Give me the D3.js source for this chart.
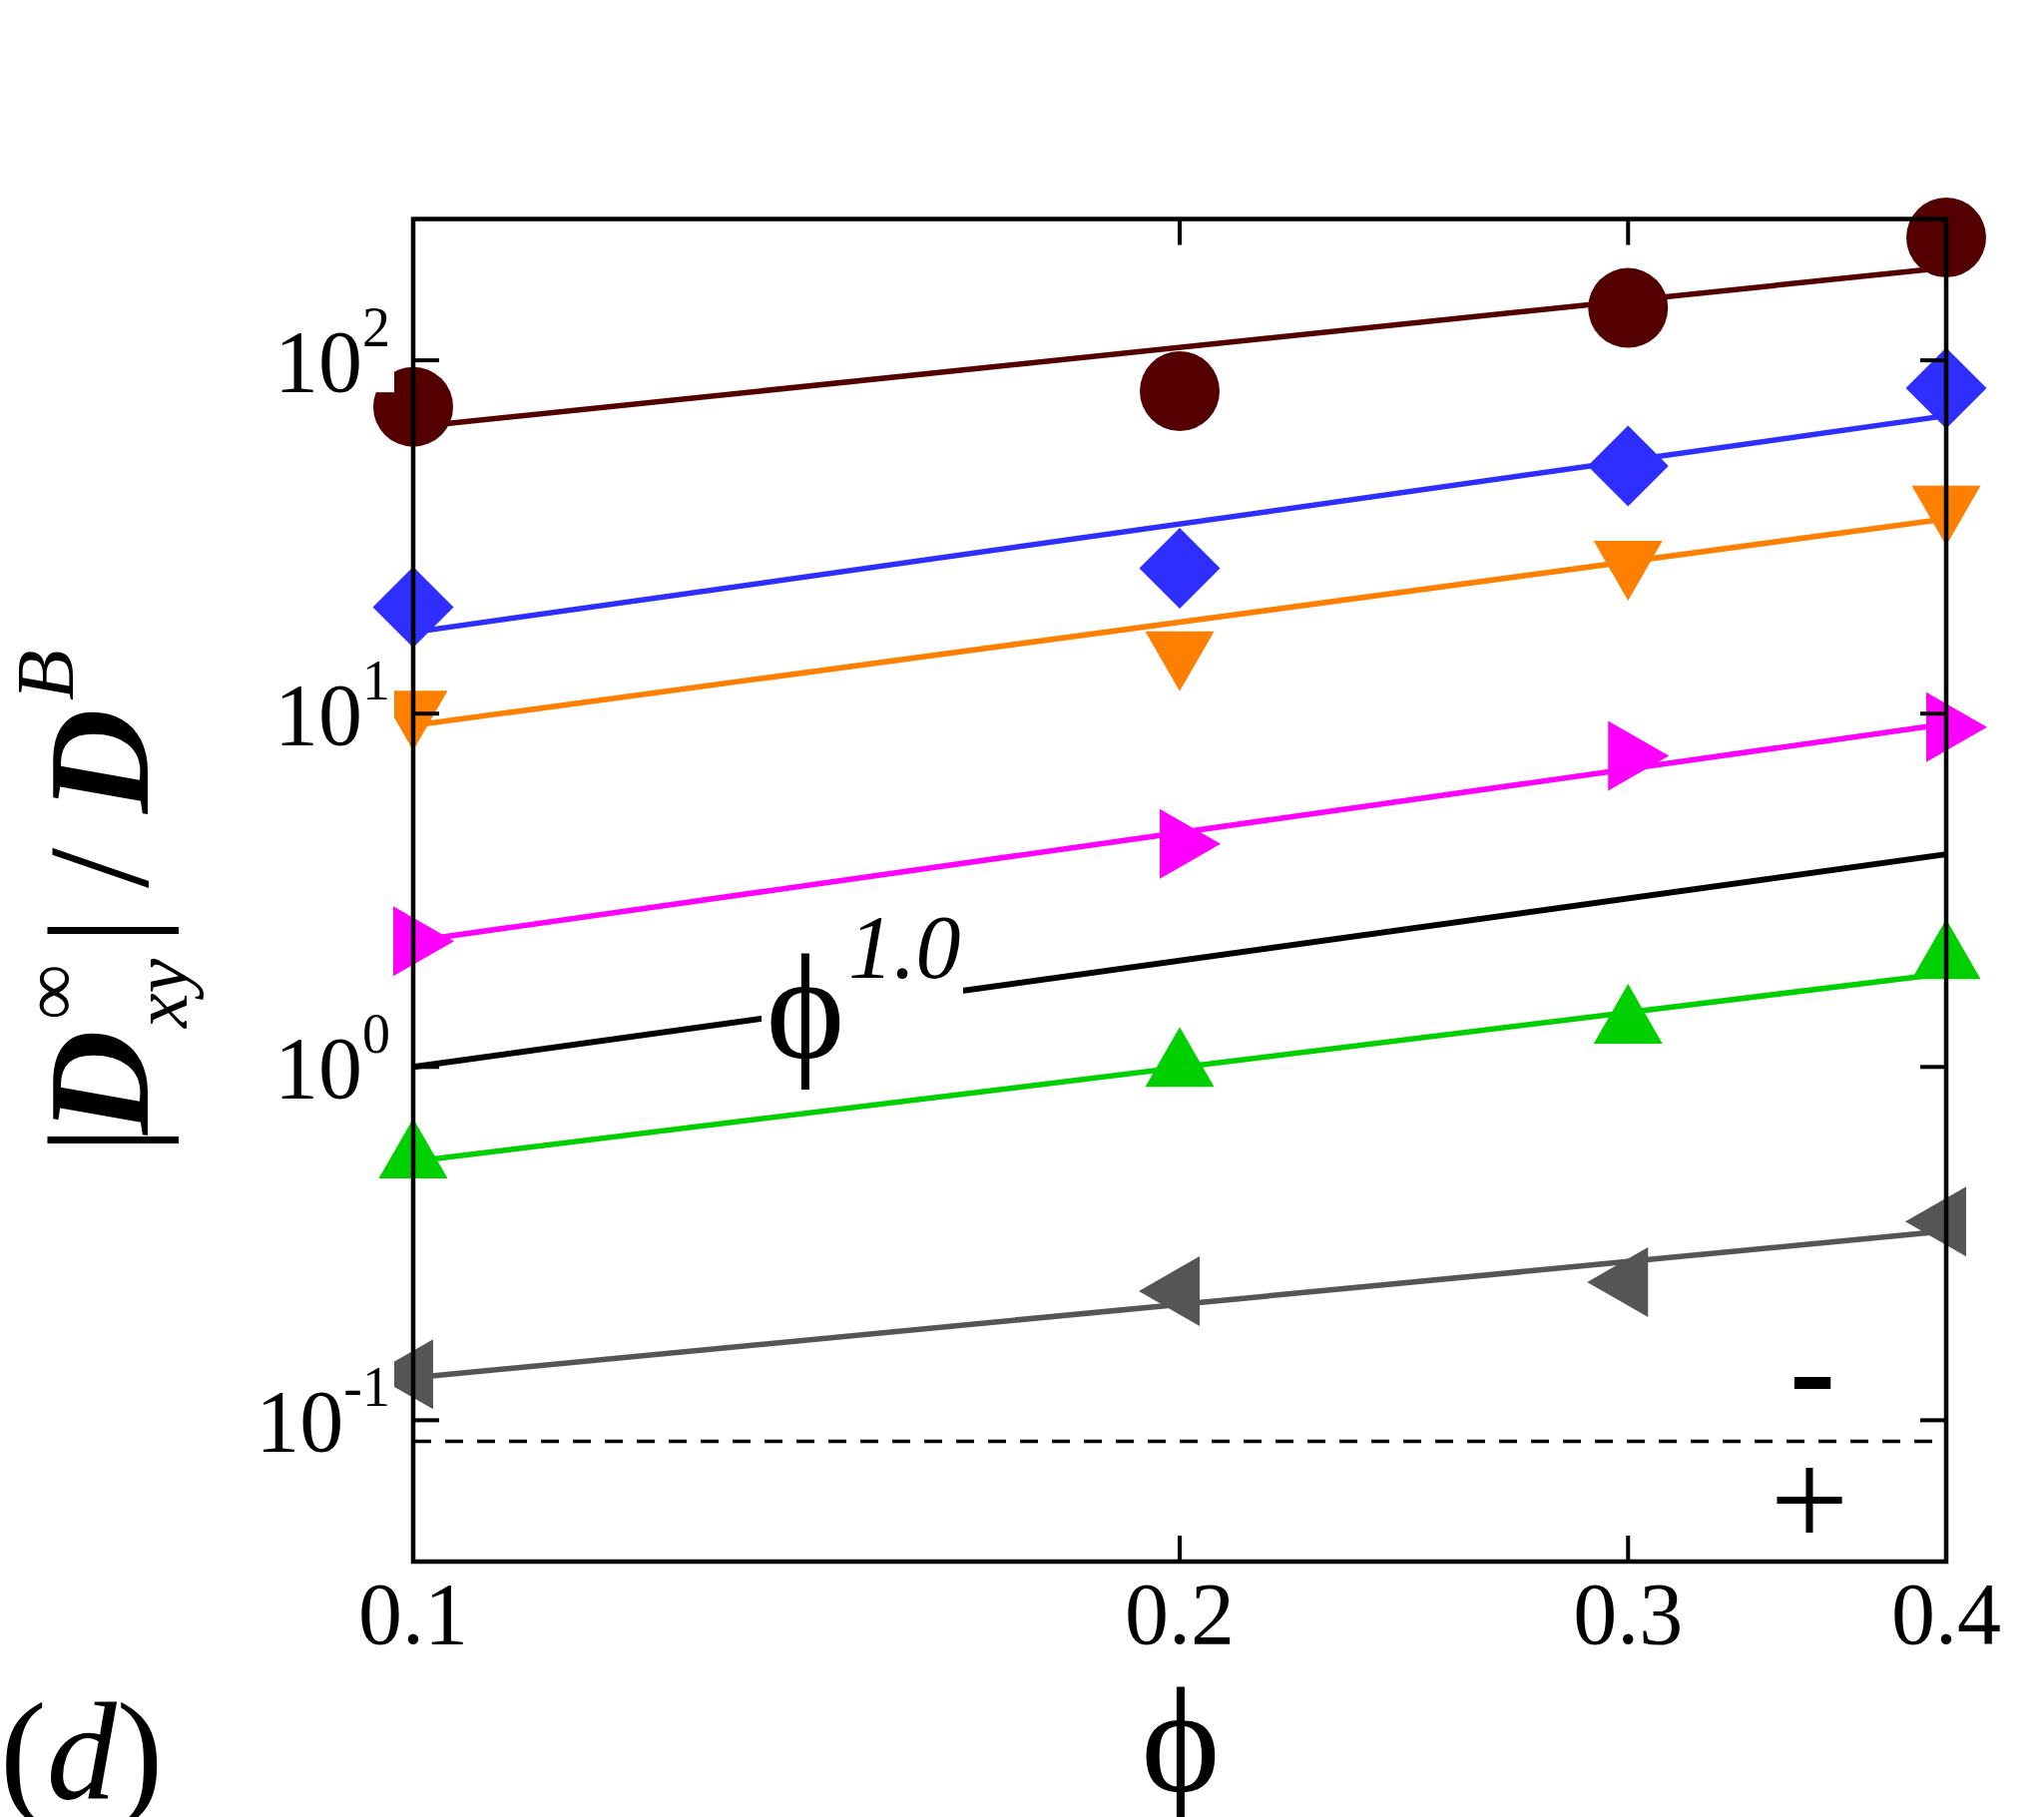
<!DOCTYPE html>
<html>
<head>
<meta charset="utf-8">
<script src="https://cdn.jsdelivr.net/npm/d3@7"></script>
<style>
  body { margin: 0; background: #fff; }
  svg { display: block; }
</style>
</head>
<body>
<script>
// volume fraction values (x) and the measured |D_xy| / D^B for each series
const phi = [0.1, 0.2, 0.3, 0.4];
const circleVals = [73.9, 81.8, 140.7, 222.7];
const diamondVals = [20.0, 25.8, 50.2, 83.4];
const downTriVals = [10.2, 15.0, 27.1, 38.8];
const rightTriVals = [2.27, 4.28, 7.60, 9.16];
const upTriVals = [0.551, 1.00, 1.325, 2.02];
const leftTriVals = [0.135, 0.232, 0.246, 0.365];

// power-law fits, values at the two ends of the phi range
const fitPhi = [0.1, 0.4];
const circleFit = [64.7, 183];
const diamondFit = [17.0, 69.7];
const downTriFit = [9.26, 35.6];
const rightTriFit = [2.27, 9.35];
const upTriFit = [0.54, 1.84];
const leftTriFit = [0.132, 0.343];
const refLine = [1.0, 4.0]; // phi^1.0 guide

const signBoundary = 0.0872; // dashed line between - and + regions

const xTicks = [0.1, 0.2, 0.3, 0.4];
const yTicks = [0.1, 1, 10, 100];
const yTickExp = ['-1', '0', '1', '2'];

const serif = '"Liberation Serif", "Times New Roman", serif';
const PHI = '\u03d5';

const series = [
    { vals: circleVals, fit: circleFit, color: '#550000', shape: 'circle' },
    { vals: diamondVals, fit: diamondFit, color: '#2e2eff', shape: 'diamond' },
    { vals: downTriVals, fit: downTriFit, color: '#ff8000', shape: 'down' },
    { vals: rightTriVals, fit: rightTriFit, color: '#ff00ff', shape: 'right' },
    { vals: upTriVals, fit: upTriFit, color: '#00d000', shape: 'up' },
    { vals: leftTriVals, fit: leftTriFit, color: '#555555', shape: 'left' },
];

const W = 2048, H = 1821;
const plotLeft = 414, plotRight = 1950, plotTop = 219.5, plotBottom = 1565;

const x = d3.scaleLog().domain([0.1, 0.4]).range([plotLeft, plotRight]);
const y = d3.scaleLog().domain([Math.pow(10, -1.4), Math.pow(10, 2.4)]).range([plotBottom, plotTop]);

const svg = d3.select('body').append('svg')
    .attr('width', W).attr('height', H)
    .attr('font-family', serif);

svg.append('rect').attr('width', W).attr('height', H).attr('fill', '#fff');

const line = d3.line().x(d => x(d[0])).y(d => y(d[1]));

// guide line phi^1.0
svg.append('path')
    .datum(fitPhi.map((p, i) => [p, refLine[i]]))
    .attr('d', line)
    .attr('fill', 'none')
    .attr('stroke', '#000')
    .attr('stroke-width', 6);

// label sitting on the guide line (white boxes break the line)
const ann = svg.append('g');
ann.append('rect').attr('x', 763).attr('y', 940).attr('width', 95).attr('height', 155).attr('fill', '#fff');
ann.append('rect').attr('x', 845).attr('y', 905).attr('width', 120).attr('height', 115).attr('fill', '#fff');
ann.append('text').attr('x', 807).attr('y', 1060).attr('text-anchor', 'middle')
    .attr('font-size', 150).text(PHI);
ann.append('text').attr('x', 850).attr('y', 980).attr('font-size', 90)
    .attr('font-style', 'italic').text('1.0');

// fit lines
series.forEach(s => {
    svg.append('path')
        .datum(fitPhi.map((p, i) => [p, s.fit[i]]))
        .attr('d', line)
        .attr('fill', 'none')
        .attr('stroke', s.color)
        .attr('stroke-width', 5.5);
});

// markers
function markerPath(shape) {
    const b = 69, h = 60;
    if (shape === 'circle') return d3.symbol(d3.symbolCircle, Math.PI * 40 * 40)();
    if (shape === 'diamond') return 'M0,-40.5L40.5,0L0,40.5L-40.5,0Z';
    if (shape === 'up') return `M0,${-2 * h / 3}L${b / 2},${h / 3}L${-b / 2},${h / 3}Z`;
    if (shape === 'down') return `M0,${2 * h / 3}L${b / 2},${-h / 3}L${-b / 2},${-h / 3}Z`;
    if (shape === 'right') return `M${2 * h / 3 + 1},0L${-h / 3},${-35}L${-h / 3},35Z`;
    return `M${-2 * h / 3 - 1},0L${h / 3},${-35}L${h / 3},35Z`;
}

series.forEach(s => {
    svg.append('g').selectAll('path')
        .data(phi.map((p, i) => [p, s.vals[i]]))
        .join('path')
        .attr('transform', d => `translate(${x(d[0])},${y(d[1])})`)
        .attr('d', markerPath(s.shape))
        .attr('fill', s.color);
});

// sign boundary
svg.append('line')
    .attr('x1', x(0.1)).attr('x2', 1936)
    .attr('y1', y(signBoundary)).attr('y2', y(signBoundary))
    .attr('stroke', '#000').attr('stroke-width', 3.5)
    .attr('stroke-dasharray', '18,14');

svg.append('text').attr('x', 1816).attr('y', 1419).attr('text-anchor', 'middle')
    .attr('font-size', 140).attr('font-weight', 'bold').text('-');
svg.append('text').attr('x', 1813).attr('y', 1550).attr('text-anchor', 'middle')
    .attr('font-size', 140).text('+');

// y tick labels with white boxes
const yLabels = svg.append('g').selectAll('g')
    .data(yTicks)
    .join('g')
    .attr('transform', d => `translate(0,${y(d)})`);
yLabels.append('rect').attr('x', 265).attr('y', -62).attr('width', 130).attr('height', 94).attr('fill', '#fff');
const yText = yLabels.append('text')
    .attr('x', 391).attr('y', 31)
    .attr('text-anchor', 'end')
    .attr('font-size', 88);
yText.append('tspan').text('10');
yText.append('tspan').attr('dy', -45).attr('font-size', 56).text((d, i) => yTickExp[i]);

// axes: inward ticks on all four sides
const tickLen = 26;
const axes = svg.append('g').attr('stroke', '#000').attr('stroke-width', 4);
axes.append('g').selectAll('line').data(xTicks).join('line')
    .attr('x1', d => x(d)).attr('x2', d => x(d))
    .attr('y1', plotBottom).attr('y2', plotBottom - tickLen);
axes.append('g').selectAll('line').data(xTicks).join('line')
    .attr('x1', d => x(d)).attr('x2', d => x(d))
    .attr('y1', plotTop).attr('y2', plotTop + tickLen);
axes.append('g').selectAll('line').data(yTicks).join('line')
    .attr('x1', plotLeft).attr('x2', plotLeft + tickLen)
    .attr('y1', d => y(d)).attr('y2', d => y(d));
axes.append('g').selectAll('line').data(yTicks).join('line')
    .attr('x1', plotRight).attr('x2', plotRight - tickLen)
    .attr('y1', d => y(d)).attr('y2', d => y(d));

svg.append('rect')
    .attr('x', plotLeft).attr('y', plotTop)
    .attr('width', plotRight - plotLeft).attr('height', plotBottom - plotTop)
    .attr('fill', 'none').attr('stroke', '#000').attr('stroke-width', 4.5);

// x tick labels
svg.append('g').selectAll('text')
    .data(xTicks)
    .join('text')
    .attr('x', d => x(d)).attr('y', 1647)
    .attr('text-anchor', 'middle')
    .attr('font-size', 88)
    .text(d => d3.format('.1f')(d));

// x axis label
svg.append('text').attr('x', 1183).attr('y', 1795).attr('text-anchor', 'middle')
    .attr('font-size', 150).text(PHI);

// y axis label |D^inf_xy| / D^B, rotated
const yLab = svg.append('g').attr('transform', 'translate(148,0) rotate(-90)');
yLab.append('text').attr('x', -1157).attr('y', 0).attr('font-size', 145).text('|');
yLab.append('text').attr('x', -1137).attr('y', 0).attr('font-size', 145)
    .attr('font-weight', 'bold').attr('font-style', 'italic').text('D');
yLab.append('text').attr('x', -1022).attr('y', -71).attr('font-size', 78).text('\u221e');
yLab.append('text').attr('x', -1030).attr('y', 39).attr('font-size', 78)
    .attr('font-style', 'italic').text('xy');
yLab.append('text').attr('x', -947).attr('y', 0).attr('font-size', 145).text('|');
yLab.append('text').attr('x', -890).attr('y', 0).attr('font-size', 145).text('/');
yLab.append('text').attr('x', -815).attr('y', 0).attr('font-size', 145)
    .attr('font-weight', 'bold').attr('font-style', 'italic').text('D');
yLab.append('text').attr('x', -702).attr('y', -75).attr('font-size', 83)
    .attr('font-style', 'italic').text('B');

// panel tag
const tag = svg.append('text').attr('x', 0).attr('y', 1803).attr('font-size', 140);
tag.append('tspan').text('(');
tag.append('tspan').attr('font-style', 'italic').text('d');
tag.append('tspan').text(')');
</script>
</body>
</html>
